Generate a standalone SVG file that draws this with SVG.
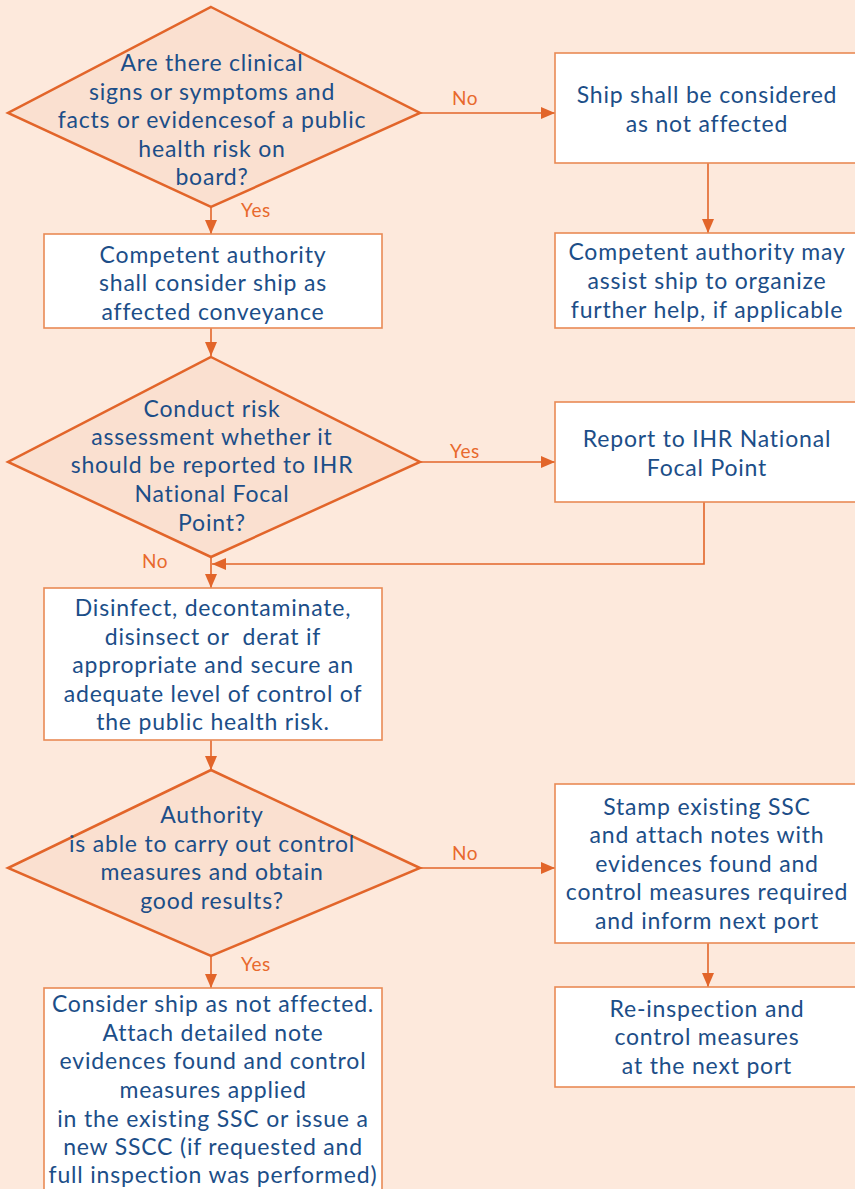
<svg xmlns="http://www.w3.org/2000/svg" width="855" height="1189" viewBox="0 0 855 1189">
<defs>
<marker id="ah" markerWidth="14" markerHeight="12" refX="14" refY="6" orient="auto" markerUnits="userSpaceOnUse">
<path d="M0,0 L14,6 L0,12 Z" fill="#e2652a"/>
</marker>
<style>
.bg{fill:#fde9dc}
.dia{fill:#fae0d0;stroke:#e2652a;stroke-width:2.5}
.box{fill:#ffffff;stroke:#e98a55;stroke-width:1.6}
.con{fill:none;stroke:#e2652a;stroke-width:1.6}
.t{font-family:Lato,"Liberation Sans",sans-serif;font-size:23px;letter-spacing:0.8px;fill:#1c4e88;text-anchor:middle}
.lbl{font-family:Lato,"Liberation Sans",sans-serif;font-size:19px;letter-spacing:0.6px;fill:#e8692d;text-anchor:middle}
</style>
</defs>
<rect class="bg" x="0" y="0" width="855" height="1189"/>

<g id="connectors">
<line class="con" x1="420" y1="113" x2="555" y2="113" marker-end="url(#ah)"/>
<line class="con" x1="708" y1="163" x2="708" y2="233" marker-end="url(#ah)"/>
<line class="con" x1="211" y1="207" x2="211" y2="234" marker-end="url(#ah)"/>
<line class="con" x1="211" y1="328" x2="211" y2="356" marker-end="url(#ah)"/>
<line class="con" x1="420" y1="462" x2="555" y2="462" marker-end="url(#ah)"/>
<polyline class="con" points="704,502 704,564 212,564" marker-end="url(#ah)"/>
<line class="con" x1="211" y1="557" x2="211" y2="588" marker-end="url(#ah)"/>
<line class="con" x1="211" y1="740" x2="211" y2="770" marker-end="url(#ah)"/>
<line class="con" x1="420" y1="868" x2="555" y2="868" marker-end="url(#ah)"/>
<line class="con" x1="708" y1="943" x2="708" y2="987" marker-end="url(#ah)"/>
<line class="con" x1="211" y1="956" x2="211" y2="988" marker-end="url(#ah)"/>
<text class="lbl" x="465" y="105">No</text>
<text class="lbl" x="256" y="217">Yes</text>
<text class="lbl" x="465" y="458">Yes</text>
<text class="lbl" x="155" y="568">No</text>
<text class="lbl" x="465" y="860">No</text>
<text class="lbl" x="256" y="971">Yes</text>
</g>

<g id="d1">
<polygon class="dia" points="211,7 420,113 211,207 8,113"/>
<text class="t"><tspan x="212" y="71">Are there clinical</tspan><tspan x="212" y="100">signs or symptoms and</tspan><tspan x="212" y="128">facts or evidencesof a public</tspan><tspan x="212" y="157">health risk on</tspan><tspan x="212" y="185">board?</tspan></text>
</g>

<g id="b_notaffected">
<rect class="box" x="555" y="53" width="320" height="110"/>
<text class="t"><tspan x="707" y="103">Ship shall be considered</tspan><tspan x="707" y="132">as not affected</tspan></text>
</g>

<g id="b_assist">
<rect class="box" x="555" y="233" width="320" height="95"/>
<text class="t"><tspan x="707" y="260">Competent authority may</tspan><tspan x="707" y="289">assist ship to organize</tspan><tspan x="707" y="318">further help, if applicable</tspan></text>
</g>

<g id="b_affected">
<rect class="box" x="44" y="234" width="338" height="94"/>
<text class="t"><tspan x="213" y="263">Competent authority</tspan><tspan x="213" y="291">shall consider ship as</tspan><tspan x="213" y="320">affected conveyance</tspan></text>
</g>

<g id="d2">
<polygon class="dia" points="211,357 420,462 211,557 8,462"/>
<text class="t"><tspan x="212" y="417">Conduct risk</tspan><tspan x="212" y="445">assessment whether it</tspan><tspan x="212" y="473">should be reported to IHR</tspan><tspan x="212" y="502">National Focal</tspan><tspan x="212" y="531">Point?</tspan></text>
</g>

<g id="b_report">
<rect class="box" x="555" y="402" width="320" height="100"/>
<text class="t"><tspan x="707" y="447">Report to IHR National</tspan><tspan x="707" y="476">Focal Point</tspan></text>
</g>

<g id="b_disinfect">
<rect class="box" x="44" y="588" width="338" height="152"/>
<text class="t"><tspan x="213" y="616">Disinfect, decontaminate,</tspan><tspan x="213" y="645" xml:space="preserve">disinsect or  derat if</tspan><tspan x="213" y="673">appropriate and secure an</tspan><tspan x="213" y="702">adequate level of control of</tspan><tspan x="213" y="730">the public health risk.</tspan></text>
</g>

<g id="d3">
<polygon class="dia" points="211,770 420,868 211,956 8,868"/>
<text class="t"><tspan x="212" y="823">Authority</tspan><tspan x="212" y="852">is able to carry out control</tspan><tspan x="212" y="880">measures and obtain</tspan><tspan x="212" y="909">good results?</tspan></text>
</g>

<g id="b_stamp">
<rect class="box" x="555" y="784" width="320" height="159"/>
<text class="t"><tspan x="707" y="815">Stamp existing SSC</tspan><tspan x="707" y="843">and attach notes with</tspan><tspan x="707" y="872">evidences found and</tspan><tspan x="707" y="900">control measures required</tspan><tspan x="707" y="929">and inform next port</tspan></text>
</g>

<g id="b_reinspect">
<rect class="box" x="555" y="987" width="320" height="100"/>
<text class="t"><tspan x="707" y="1017">Re-inspection and</tspan><tspan x="707" y="1045">control measures</tspan><tspan x="707" y="1074">at the next port</tspan></text>
</g>

<g id="b_final">
<rect class="box" x="44" y="988" width="338" height="220"/>
<text class="t"><tspan x="213" y="1012">Consider ship as not affected.</tspan><tspan x="213" y="1041">Attach detailed note</tspan><tspan x="213" y="1069">evidences found and control</tspan><tspan x="213" y="1098">measures applied</tspan><tspan x="213" y="1127">in the existing SSC or issue a</tspan><tspan x="213" y="1155">new SSCC (if requested and</tspan><tspan x="213" y="1183">full inspection was performed)</tspan></text>
</g>
</svg>
